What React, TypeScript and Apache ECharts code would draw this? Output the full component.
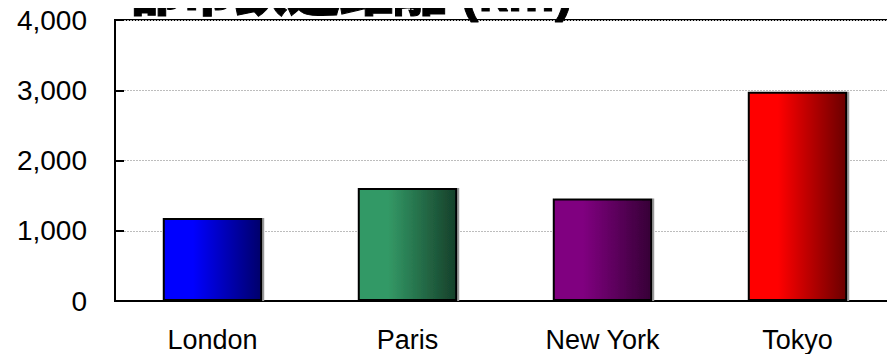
import React, { useEffect, useRef } from "react";
import * as echarts from "echarts";

const titleText = "都市鉄道距離 (km)";
const categories = ["London", "Paris", "New York", "Tokyo"];
const distances = [1180, 1610, 1460, 2980];
const yTicks = [0, 1000, 2000, 3000, 4000];

const barLight = ["#0000ff", "#339966", "#800080", "#ff0000"];
const barDark = ["#00006a", "#16402a", "#360036", "#6a0000"];

export default function App() {
  const ref = useRef<HTMLDivElement>(null);

  useEffect(() => {
    if (!ref.current) return;
    const chart = echarts.init(ref.current, null, { renderer: "svg" });
    const latin = "'Liberation Sans', Arial, 'Noto Sans CJK JP', sans-serif";
    chart.setOption({
      animation: false,
      backgroundColor: "#ffffff",
      grid: {
        left: 115,
        top: 20,
        right: -4,
        bottom: 61,
        show: true,
        borderColor: "#000",
        borderWidth: 2,
        backgroundColor: "transparent",
      },
      graphic: [
        {
          type: "text",
          x: 128,
          y: -8,
          style: {
            text: titleText,
            fontSize: 53,
            fontWeight: 900,
            fontFamily: latin,
            fill: "#000",
            stroke: "#000",
            lineWidth: 1,
            verticalAlign: "middle",
            align: "left",
          },
          z: 100,
        },
      ],
      xAxis: {
        type: "category",
        data: categories,
        axisLine: { show: true, lineStyle: { color: "#000", width: 2 } },
        axisTick: { show: false },
        axisLabel: {
          margin: 25,
          fontSize: 27,
          fontFamily: latin,
          color: "#000",
        },
        splitLine: { show: false },
      },
      yAxis: {
        type: "value",
        min: yTicks[0],
        max: yTicks[yTicks.length - 1],
        interval: yTicks[1] - yTicks[0],
        axisLine: { show: true, lineStyle: { color: "#000", width: 2 } },
        axisTick: {
          show: true,
          inside: true,
          length: 9,
          lineStyle: { color: "#000", width: 2 },
        },
        axisLabel: {
          margin: 28,
          fontSize: 28,
          fontFamily: latin,
          color: "#000",
          formatter: (v: number) => v.toLocaleString("en-US"),
        },
        splitLine: { show: true, lineStyle: { color: "#bdbdbd", width: 1, type: [2, 1] } },
      },
      series: [
        {
          type: "bar",
          barWidth: "51%",
          data: distances.map((v, i) => ({
            value: v,
            itemStyle: {
              color: new echarts.graphic.LinearGradient(0, 0, 1, 0, [
                { offset: 0, color: barLight[i] },
                { offset: 0.3, color: barLight[i] },
                { offset: 1, color: barDark[i] },
              ]),
              borderColor: "#000",
              borderWidth: 2,
              shadowColor: "#999",
              shadowOffsetX: 2,
              shadowOffsetY: 0,
              shadowBlur: 0,
            },
          })),
        },
      ],
    });
    return () => chart.dispose();
  }, []);

  return <div ref={ref} style={{ width: 895, height: 362, margin: -8 }} />;
}
